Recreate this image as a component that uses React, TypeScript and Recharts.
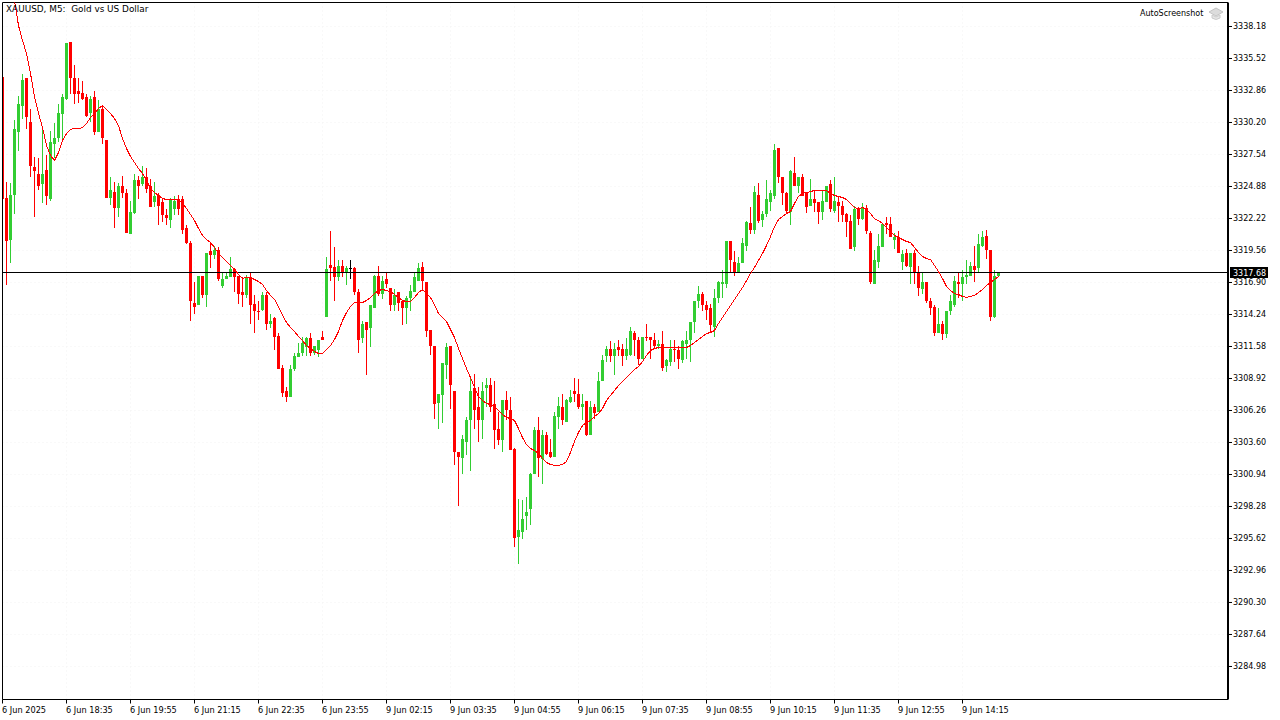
import React from "react";
import { ComposedChart, Bar, Line, XAxis, YAxis, CartesianGrid, ReferenceLine } from "recharts";

const FONT = '"DejaVu Sans", sans-serif';
const UP = "#32CD32";
const DOWN = "#FF0000";
const LAST_PRICE = 3317.68;
const LAST_LINE = 3317.73;
const Y_MIN = 3282.235;
const Y_MAX = 3340.175;
const X_MAX = 306.375;

const timeLabels = [
  "6 Jun 2025", "6 Jun 18:35", "6 Jun 19:55", "6 Jun 21:15", "6 Jun 22:35", "6 Jun 23:55",
  "9 Jun 02:15", "9 Jun 03:35", "9 Jun 04:55", "9 Jun 06:15", "9 Jun 07:35", "9 Jun 08:55",
  "9 Jun 10:15", "9 Jun 11:35", "9 Jun 12:55", "9 Jun 14:15",
];
const timeTicks = [0, 16, 32, 48, 64, 80, 96, 112, 128, 144, 160, 176, 192, 208, 224, 240];
const priceTicks = [
  3338.18, 3335.52, 3332.86, 3330.2, 3327.54, 3324.88, 3322.22, 3319.56, 3316.9, 3314.24, 3311.58,
  3308.92, 3306.26, 3303.6, 3300.94, 3298.28, 3295.62, 3292.96, 3290.3, 3287.64, 3284.98,
];

const opens = [
  3334.02, 3323.96, 3320.47, 3324.21, 3329.37, 3331.61, 3333.86, 3330.28, 3326.54, 3325.96,
  3325.05, 3326.21, 3323.88, 3328.45, 3328.87, 3330.87, 3332.19, 3336.85, 3333.94, 3332.78,
  3332.69, 3332.28, 3330.95, 3332.28, 3329.37, 3331.36, 3328.78, 3323.96, 3324.46, 3323.13,
  3324.88, 3324.30, 3320.97, 3322.71, 3325.46, 3325.05, 3325.63, 3324.88, 3323.63, 3324.21,
  3323.55, 3322.55, 3322.13, 3323.05, 3323.80, 3323.88, 3321.39, 3320.22, 3315.23, 3315.07,
  3317.40, 3315.90, 3319.48, 3319.15, 3319.64, 3316.57, 3317.15, 3317.32, 3317.98, 3317.48,
  3316.15, 3315.90, 3317.32, 3315.15, 3314.57, 3314.65, 3315.90, 3313.41, 3313.91, 3312.49,
  3309.83, 3307.84, 3307.34, 3309.67, 3310.67, 3311.08, 3311.50, 3312.25, 3311.00, 3311.25,
  3312.33, 3313.99, 3318.39, 3318.15, 3317.32, 3318.23, 3317.65, 3318.07, 3318.07, 3316.07,
  3312.25, 3313.58, 3313.08, 3314.74, 3317.40, 3315.98, 3317.15, 3316.48, 3315.07, 3316.07,
  3315.32, 3314.82, 3315.57, 3316.15, 3317.06, 3318.15, 3316.90, 3312.91, 3311.66, 3306.92,
  3307.51, 3310.08, 3311.58, 3307.92, 3302.77, 3302.27, 3303.68, 3305.51, 3308.17, 3306.59,
  3305.43, 3308.17, 3308.42, 3306.76, 3304.76, 3303.77, 3307.17, 3306.34, 3303.10, 3295.78,
  3296.20, 3297.45, 3298.03, 3301.02, 3304.60, 3302.19, 3304.26, 3302.77, 3302.43, 3305.68,
  3306.59, 3305.34, 3307.00, 3307.84, 3307.67, 3306.59, 3307.09, 3304.26, 3306.51, 3306.17,
  3308.67, 3310.75, 3311.41, 3310.83, 3311.50, 3311.41, 3310.75, 3310.91, 3312.74, 3312.16,
  3310.58, 3312.41, 3312.33, 3312.08, 3311.58, 3311.75, 3309.92, 3310.33, 3311.41, 3311.25,
  3310.42, 3311.75, 3312.08, 3313.58, 3315.40, 3315.98, 3315.07, 3314.82, 3313.24, 3315.57,
  3316.81, 3316.81, 3320.31, 3318.64, 3317.65, 3318.56, 3319.97, 3321.88, 3321.30, 3324.21,
  3322.13, 3322.63, 3323.63, 3324.13, 3328.04, 3325.63, 3324.38, 3322.80, 3326.04, 3324.96,
  3325.71, 3324.46, 3323.30, 3323.80, 3323.55, 3322.80, 3323.63, 3325.05, 3322.88, 3323.55,
  3323.30, 3322.63, 3322.05, 3319.89, 3323.05, 3322.21, 3323.13, 3321.05, 3316.81, 3318.64,
  3319.89, 3321.88, 3321.80, 3320.47, 3320.64, 3318.64, 3319.31, 3318.15, 3319.31, 3317.73,
  3316.40, 3316.90, 3315.40, 3314.90, 3312.74, 3313.49, 3312.58, 3314.57, 3314.99, 3316.98,
  3316.81, 3317.32, 3317.48, 3318.31, 3318.07, 3319.97, 3320.80, 3319.64, 3313.99, 3317.40,
];

const highs = [
  3334.02, 3325.29, 3325.13, 3330.37, 3332.44, 3334.27, 3333.86, 3331.36, 3327.37, 3327.21,
  3329.87, 3327.46, 3329.53, 3330.12, 3331.70, 3332.53, 3336.77, 3336.85, 3335.02, 3333.94,
  3333.69, 3332.53, 3332.44, 3332.78, 3332.03, 3331.53, 3328.78, 3325.71, 3325.29, 3325.21,
  3325.79, 3324.71, 3323.71, 3325.88, 3325.79, 3326.62, 3326.38, 3325.54, 3325.29, 3324.38,
  3323.88, 3322.97, 3323.96, 3324.13, 3324.21, 3324.05, 3321.64, 3320.31, 3316.90, 3317.48,
  3317.40, 3319.39, 3320.22, 3319.97, 3319.81, 3317.65, 3317.81, 3319.06, 3318.07, 3317.48,
  3317.32, 3317.56, 3317.73, 3315.82, 3315.32, 3316.07, 3316.07, 3314.24, 3314.07, 3312.66,
  3310.08, 3308.25, 3310.08, 3311.00, 3311.91, 3312.33, 3312.33, 3312.74, 3311.66, 3312.08,
  3312.83, 3319.06, 3321.22, 3319.89, 3318.73, 3318.81, 3318.23, 3318.81, 3318.15, 3316.32,
  3313.66, 3313.58, 3314.99, 3317.56, 3318.23, 3317.40, 3317.81, 3316.48, 3316.32, 3316.07,
  3315.40, 3315.74, 3316.73, 3317.73, 3318.56, 3318.64, 3316.90, 3312.91, 3311.66, 3307.67,
  3310.17, 3311.91, 3311.58, 3307.92, 3302.77, 3304.26, 3305.68, 3309.09, 3309.33, 3308.25,
  3308.59, 3309.00, 3309.00, 3308.75, 3306.17, 3307.17, 3307.92, 3307.34, 3303.18, 3298.94,
  3298.86, 3299.03, 3301.10, 3304.85, 3305.76, 3304.60, 3304.51, 3303.85, 3306.17, 3307.34,
  3307.59, 3307.25, 3308.00, 3309.00, 3308.84, 3307.59, 3307.09, 3307.09, 3306.84, 3309.42,
  3310.91, 3311.66, 3312.00, 3311.91, 3312.08, 3311.75, 3312.25, 3313.16, 3312.83, 3312.33,
  3312.41, 3313.41, 3312.41, 3312.74, 3312.08, 3312.83, 3310.50, 3312.08, 3312.16, 3311.58,
  3312.08, 3312.83, 3313.58, 3315.40, 3316.57, 3316.15, 3315.32, 3315.15, 3316.40, 3317.06,
  3317.90, 3320.31, 3320.39, 3319.48, 3318.98, 3320.56, 3322.05, 3323.21, 3324.88, 3325.21,
  3322.88, 3325.46, 3324.63, 3328.45, 3328.12, 3325.63, 3324.46, 3326.21, 3327.37, 3325.71,
  3325.96, 3324.46, 3325.54, 3324.55, 3323.55, 3324.55, 3324.88, 3325.46, 3325.71, 3324.13,
  3323.71, 3322.71, 3322.55, 3323.30, 3323.21, 3323.47, 3323.38, 3321.14, 3319.64, 3320.89,
  3321.88, 3322.38, 3322.38, 3321.05, 3321.14, 3319.56, 3319.72, 3319.39, 3319.56, 3318.31,
  3317.65, 3316.90, 3315.57, 3314.99, 3314.82, 3313.74, 3314.57, 3315.82, 3317.48, 3317.73,
  3317.90, 3318.81, 3318.64, 3319.97, 3320.97, 3321.14, 3321.30, 3319.64, 3317.90, 3317.73,
];

const lows = [
  3323.88, 3316.73, 3318.48, 3322.63, 3327.87, 3330.53, 3329.70, 3325.63, 3322.38, 3324.55,
  3323.47, 3323.38, 3323.71, 3327.21, 3328.54, 3328.62, 3332.03, 3332.61, 3331.70, 3331.78,
  3332.03, 3330.62, 3330.20, 3329.12, 3329.37, 3328.45, 3323.96, 3323.38, 3321.47, 3322.38,
  3323.96, 3321.05, 3320.97, 3322.63, 3323.88, 3324.96, 3324.38, 3323.21, 3323.21, 3321.64,
  3321.97, 3321.64, 3321.47, 3322.55, 3322.47, 3320.97, 3320.06, 3313.66, 3314.32, 3314.99,
  3315.57, 3314.90, 3318.07, 3318.89, 3317.06, 3316.48, 3317.15, 3317.32, 3316.15, 3315.15,
  3314.90, 3315.57, 3313.49, 3312.74, 3313.82, 3314.49, 3312.99, 3313.08, 3311.25, 3309.75,
  3307.34, 3307.00, 3307.34, 3309.58, 3310.67, 3310.83, 3310.83, 3310.75, 3310.91, 3310.67,
  3312.08, 3313.99, 3317.06, 3315.32, 3317.06, 3317.32, 3316.73, 3317.15, 3315.82, 3311.00,
  3311.91, 3309.25, 3311.50, 3314.74, 3315.74, 3315.49, 3316.48, 3314.57, 3314.57, 3314.49,
  3313.33, 3313.41, 3314.57, 3316.07, 3317.06, 3316.23, 3312.33, 3310.91, 3305.59, 3304.76,
  3305.18, 3308.84, 3306.42, 3301.69, 3298.28, 3301.02, 3302.52, 3301.19, 3304.68, 3303.60,
  3303.85, 3306.59, 3306.17, 3303.02, 3303.43, 3302.85, 3305.51, 3302.94, 3294.95, 3293.46,
  3295.54, 3296.29, 3296.78, 3301.02, 3300.69, 3300.11, 3302.60, 3302.35, 3302.43, 3304.76,
  3305.09, 3305.34, 3306.92, 3307.00, 3306.42, 3305.43, 3304.18, 3304.26, 3305.59, 3306.17,
  3308.67, 3310.33, 3310.25, 3309.25, 3310.75, 3309.92, 3310.42, 3310.83, 3310.83, 3310.08,
  3310.58, 3312.00, 3310.50, 3311.41, 3311.41, 3309.58, 3309.50, 3309.92, 3310.33, 3309.67,
  3310.17, 3310.50, 3310.25, 3312.74, 3314.82, 3314.49, 3313.82, 3312.74, 3312.41, 3315.23,
  3315.57, 3316.48, 3317.81, 3317.48, 3317.65, 3318.48, 3319.48, 3320.97, 3320.97, 3321.88,
  3321.55, 3322.38, 3322.88, 3323.80, 3325.21, 3323.38, 3322.63, 3321.72, 3324.96, 3324.30,
  3324.13, 3322.71, 3323.30, 3322.80, 3321.80, 3322.13, 3323.63, 3322.80, 3322.71, 3321.97,
  3321.97, 3320.72, 3319.72, 3319.48, 3321.64, 3322.13, 3320.97, 3316.81, 3316.81, 3318.07,
  3319.89, 3320.89, 3320.72, 3319.72, 3319.31, 3317.90, 3318.15, 3316.81, 3316.81, 3315.74,
  3315.98, 3315.23, 3314.16, 3312.49, 3312.66, 3312.08, 3312.25, 3314.16, 3314.90, 3315.65,
  3315.40, 3316.81, 3317.40, 3316.98, 3317.73, 3319.89, 3318.89, 3313.66, 3313.91, 3317.40,
];

const closes = [
  3323.88, 3320.39, 3324.21, 3329.70, 3331.70, 3333.77, 3330.62, 3326.62, 3326.13, 3324.96,
  3325.88, 3324.05, 3328.62, 3328.95, 3330.95, 3332.36, 3336.77, 3333.86, 3332.61, 3332.61,
  3332.19, 3330.78, 3332.19, 3329.37, 3331.36, 3328.87, 3323.96, 3324.63, 3323.13, 3324.96,
  3324.30, 3321.05, 3322.80, 3325.46, 3324.88, 3325.63, 3324.71, 3323.21, 3324.05, 3323.30,
  3322.47, 3322.22, 3323.80, 3323.71, 3322.97, 3321.30, 3320.22, 3315.32, 3314.90, 3317.40,
  3315.90, 3319.39, 3319.15, 3319.56, 3317.23, 3317.15, 3317.48, 3317.98, 3317.32, 3315.98,
  3315.90, 3317.32, 3314.99, 3314.49, 3314.49, 3315.82, 3313.49, 3313.74, 3312.41, 3309.75,
  3307.75, 3307.34, 3309.75, 3310.75, 3311.08, 3311.83, 3312.25, 3311.08, 3311.58, 3312.08,
  3312.08, 3317.98, 3318.07, 3317.32, 3318.23, 3317.65, 3318.07, 3318.07, 3316.07, 3312.16,
  3313.41, 3312.99, 3314.99, 3317.40, 3315.98, 3317.06, 3316.81, 3315.07, 3315.90, 3315.23,
  3314.82, 3315.57, 3316.23, 3317.32, 3318.07, 3317.06, 3312.83, 3311.66, 3306.84, 3307.59,
  3310.17, 3311.50, 3308.42, 3302.77, 3302.43, 3303.85, 3305.43, 3307.84, 3306.26, 3305.51,
  3307.92, 3308.42, 3306.59, 3304.60, 3303.77, 3307.17, 3306.26, 3302.94, 3295.70, 3296.29,
  3297.28, 3297.86, 3301.02, 3304.60, 3302.35, 3304.26, 3302.68, 3302.43, 3305.84, 3306.67,
  3305.43, 3307.17, 3307.42, 3307.59, 3306.59, 3306.84, 3304.26, 3306.51, 3306.01, 3308.75,
  3310.42, 3311.33, 3310.75, 3311.33, 3311.25, 3310.83, 3311.33, 3312.83, 3312.16, 3310.50,
  3312.33, 3312.25, 3312.08, 3311.58, 3311.75, 3309.83, 3310.42, 3311.33, 3311.25, 3310.58,
  3312.00, 3312.08, 3313.58, 3315.32, 3315.98, 3314.99, 3314.65, 3313.33, 3315.57, 3316.90,
  3316.98, 3320.31, 3318.73, 3317.65, 3318.56, 3320.22, 3321.97, 3321.30, 3324.46, 3322.05,
  3322.63, 3323.80, 3324.30, 3327.95, 3325.63, 3324.38, 3322.88, 3326.13, 3324.96, 3325.71,
  3324.13, 3323.21, 3323.88, 3323.47, 3322.80, 3323.71, 3324.88, 3323.05, 3323.71, 3323.30,
  3322.55, 3321.97, 3319.72, 3323.05, 3322.21, 3323.21, 3321.14, 3316.90, 3318.73, 3319.97,
  3321.80, 3321.64, 3320.72, 3320.64, 3319.31, 3319.23, 3318.23, 3319.31, 3317.65, 3316.48,
  3316.90, 3315.32, 3314.82, 3312.74, 3313.49, 3312.58, 3314.57, 3315.40, 3317.06, 3316.81,
  3317.32, 3317.56, 3318.31, 3317.90, 3320.06, 3320.72, 3319.56, 3313.99, 3317.40, 3317.73,
];

const ma = [
  null, null, null, 3340.34, 3338.26, 3337.02, 3335.93, 3334.27, 3332.36, 3330.95,
  3329.78, 3328.29, 3327.46, 3327.04, 3327.70, 3328.70, 3329.28, 3329.62, 3329.70, 3329.70,
  3329.78, 3330.12, 3330.62, 3330.95, 3331.36, 3331.61, 3331.28, 3330.95, 3330.53, 3329.95,
  3328.87, 3328.04, 3327.37, 3326.87, 3326.38, 3325.96, 3325.38, 3324.71, 3324.38, 3324.13,
  3323.88, 3323.80, 3323.80, 3323.80, 3323.80, 3323.47, 3323.05, 3322.55, 3322.05, 3321.39,
  3320.81, 3320.47, 3320.22, 3319.81, 3319.31, 3318.98, 3318.64, 3318.31, 3317.98, 3317.56,
  3317.23, 3317.32, 3317.32, 3317.15, 3316.98, 3316.73, 3316.23, 3315.82, 3315.49, 3314.90,
  3314.16, 3313.58, 3313.16, 3312.83, 3312.41, 3312.08, 3311.66, 3311.41, 3311.16, 3311.00,
  3311.00, 3311.33, 3311.66, 3312.16, 3312.83, 3313.74, 3314.40, 3314.90, 3315.23, 3315.23,
  3315.23, 3315.40, 3315.65, 3315.98, 3316.23, 3316.32, 3316.23, 3316.15, 3315.90, 3315.65,
  3315.40, 3315.32, 3315.32, 3315.65, 3316.07, 3316.32, 3315.98, 3315.65, 3315.07, 3314.32,
  3313.99, 3313.66, 3313.00, 3312.33, 3311.41, 3310.58, 3309.75, 3309.00, 3308.17, 3307.42,
  3307.09, 3306.84, 3306.76, 3306.59, 3306.26, 3305.93, 3305.68, 3305.59, 3305.43, 3304.76,
  3304.01, 3303.43, 3303.10, 3302.94, 3302.68, 3302.27, 3301.94, 3301.77, 3301.69, 3301.69,
  3301.77, 3302.02, 3302.77, 3303.68, 3304.43, 3305.01, 3305.26, 3305.43, 3305.76, 3306.01,
  3306.42, 3307.09, 3307.51, 3307.92, 3308.34, 3308.67, 3309.00, 3309.33, 3309.67, 3309.92,
  3310.33, 3310.83, 3311.25, 3311.41, 3311.50, 3311.50, 3311.50, 3311.50, 3311.50, 3311.50,
  3311.50, 3311.50, 3311.66, 3311.91, 3312.16, 3312.41, 3312.66, 3312.74, 3312.91, 3313.49,
  3313.99, 3314.49, 3314.99, 3315.49, 3315.98, 3316.48, 3317.06, 3317.65, 3318.15, 3318.73,
  3319.31, 3319.97, 3320.72, 3321.55, 3322.13, 3322.38, 3322.63, 3322.80, 3323.47, 3324.05,
  3324.30, 3324.38, 3324.46, 3324.55, 3324.55, 3324.55, 3324.55, 3324.30, 3324.13, 3324.05,
  3323.96, 3323.80, 3323.47, 3323.13, 3323.05, 3323.13, 3322.97, 3322.63, 3322.21, 3322.05,
  3321.80, 3321.47, 3321.14, 3320.81, 3320.64, 3320.47, 3320.31, 3320.22, 3319.81, 3319.39,
  3319.06, 3318.89, 3318.81, 3318.31, 3317.81, 3317.23, 3316.57, 3316.23, 3315.98, 3315.90,
  3315.74, 3315.65, 3315.74, 3315.82, 3316.07, 3316.32, 3316.65, 3316.90, 3317.15, 3317.40,
];

const data = opens.map((open, i) => ({
  index: i,
  open,
  high: highs[i],
  low: lows[i],
  close: closes[i],
  ma: ma[i],
  range: [lows[i], highs[i]],
}));

// wick and body, both worked out from the box the Bar gives for low..high
function Candle(props: any) {
  const { x, y, width, height, payload } = props;
  const { open, high, low, close } = payload;
  const top = Math.min(y, y + height);
  const h = Math.abs(height);
  const cx = x + width / 2;
  const toY = (v: number) => top + ((high - v) / (high - low)) * h;
  const color = close > open ? UP : close < open ? DOWN : "#000000";
  const bodyTop = toY(Math.max(open, close));
  const bodyH = Math.max(toY(Math.min(open, close)) - bodyTop, 1);
  return (
    <g shapeRendering="crispEdges">
      <line x1={cx} x2={cx} y1={top} y2={top + h} stroke={color} />
      <rect x={cx - 1.5} y={bodyTop} width={3} height={bodyH} fill={color} />
    </g>
  );
}

function TimeTick(props: any) {
  const { x, y, payload } = props;
  const label = timeLabels[timeTicks.indexOf(payload.value)];
  return (
    <text x={x - 0.5} y={y + 7} textAnchor="start" fontSize={8.2} fontFamily={FONT} fill="#000">
      {label}
    </text>
  );
}

function PriceTag(props: any) {
  const { viewBox } = props;
  const x = viewBox.x + viewBox.width;
  const y = viewBox.y;
  return (
    <g>
      <rect x={x + 2} y={y - 5.5} width={38} height={11} fill="#000" />
      <text x={x + 5} y={y + 3} fontSize={8} fontFamily={FONT} fill="#fff">
        {LAST_PRICE.toFixed(2)}
      </text>
    </g>
  );
}

export default function App() {
  return (
    <div style={{ position: "absolute", left: 0, top: 0, width: 1280, height: 720, background: "#fff" }}>
      <ComposedChart
        width={1280}
        height={720}
        data={data}
        margin={{ top: 2.5, right: 0, bottom: 0, left: 2.5 }}
      >
        <CartesianGrid stroke="#f2f2f2" strokeDasharray="1 3" />
        <XAxis
          dataKey="index"
          type="number"
          domain={[0, X_MAX]}
          ticks={timeTicks}
          interval={0}
          allowDataOverflow
          height={20.5}
          tick={<TimeTick />}
          tickSize={4}
          axisLine={{ stroke: "#000" }}
          tickLine={{ stroke: "#000" }}
        />
        <YAxis
          orientation="right"
          type="number"
          domain={[Y_MIN, Y_MAX]}
          ticks={priceTicks}
          interval={0}
          allowDataOverflow
          width={52}
          tickSize={4}
          tickMargin={1}
          tickFormatter={(v: number) => v.toFixed(2)}
          tick={{ fontSize: 8, fontFamily: FONT, fill: "#000" }}
          axisLine={{ stroke: "#000", strokeWidth: 2 }}
          tickLine={{ stroke: "#000" }}
        />
        <ReferenceLine x={0} stroke="#000" />
        <ReferenceLine y={Y_MAX} stroke="#000" />
        <ReferenceLine y={LAST_LINE} stroke="#000" label={<PriceTag />} />
        <Bar dataKey="range" barSize={3} shape={<Candle />} isAnimationActive={false} />
        <Line
          dataKey="ma"
          type="linear"
          stroke={DOWN}
          strokeWidth={1}
          shapeRendering="crispEdges"
          dot={false}
          activeDot={false}
          isAnimationActive={false}
        />
      </ComposedChart>
      <div style={{ position: "absolute", left: 6, top: 3, font: `8.9px ${FONT}`, lineHeight: "12px", whiteSpace: "pre", color: "#000" }}>
        XAUUSD, M5:  Gold vs US Dollar
      </div>
      <div style={{ position: "absolute", left: 1140, top: 8, font: `8px ${FONT}`, lineHeight: "12px", color: "#000" }}>
        AutoScreenshot
      </div>
      <svg style={{ position: "absolute", left: 1208, top: 7 }} width={16} height={14}>
        <path d="M1 5 L8 1 L15 5 L8 9 Z" fill="#dcdcdc" stroke="#c4c4c4" />
        <path d="M4 8 L4 11 Q8 14 12 11 L12 8 L8 10 Z" fill="#e6e6e6" stroke="#cccccc" />
      </svg>
    </div>
  );
}
